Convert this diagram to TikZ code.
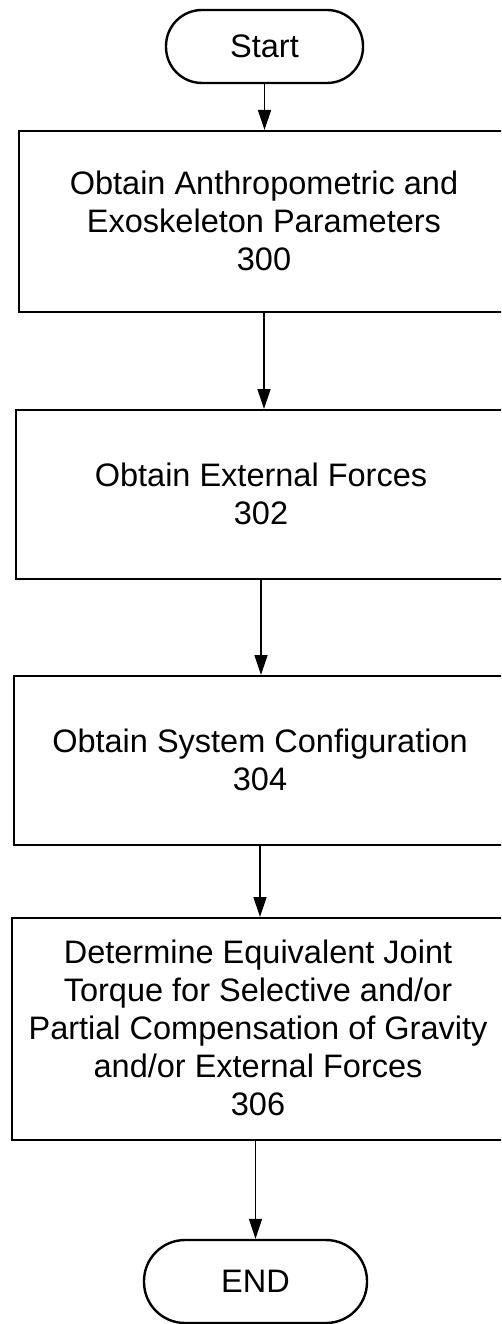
\documentclass[tikz,border=0pt]{standalone}
\usepackage{fontspec}
\setmainfont{Liberation Sans}
\usetikzlibrary{arrows.meta}
\begin{document}
\begin{tikzpicture}[x=1pt,y=1pt,
  txt/.style={align=center, font=\fontsize{32.5}{38}\selectfont, inner sep=0pt},
  frame/.style={draw, line width=2.4pt, rectangle, inner sep=0pt, anchor=north west},
  termbox/.style={txt, draw, line width=2.4pt},
  flow/.style={line width=1.3pt, -{Triangle[length=20pt,width=13pt]}}]
\useasboundingbox (0,0) rectangle (501,-1324);
\clip (0,0) rectangle (501,-1324);
\node[termbox, rounded corners=36pt, minimum width=197pt, minimum height=73pt] (start) at (264.5,-46.5) {Start};
% boxes (right edges run past the page edge)
\node[frame, minimum width=560pt, minimum height=181pt] (b300) at (18,-130) {};
\node[frame, minimum width=560pt, minimum height=169pt] (b302) at (15,-409) {};
\node[frame, minimum width=560pt, minimum height=169pt] (b304) at (13,-675) {};
\node[frame, minimum width=560pt, minimum height=222pt] (b306) at (11,-917) {};
% texts
\node[txt] (s300) at (264,-221) {Obtain Anthropometric and\\Exoskeleton Parameters\\300};
\node[txt] (s302) at (261,-494) {Obtain External Forces\\302};
\node[txt] (s304) at (260,-759.5) {Obtain System Configuration\\304};
\node[txt] (s306) at (258,-1028) {Determine Equivalent Joint\\Torque for Selective and/or\\Partial Compensation of Gravity\\and/or External Forces\\306};
\node[termbox, rounded corners=41pt, minimum width=223pt, minimum height=83pt] (end) at (255.5,-1281.5) {END};
\draw[flow] (start.south) -- (start.south |- b300.north);
\draw[flow] (s300 |- b300.south) -- (s300 |- b302.north);
\draw[flow] (s302 |- b302.south) -- (s302 |- b304.north);
\draw[flow] (s304 |- b304.south) -- (s304 |- b306.north);
\draw[flow] (end |- b306.south) -- (end.north);
\end{tikzpicture}
\end{document}
